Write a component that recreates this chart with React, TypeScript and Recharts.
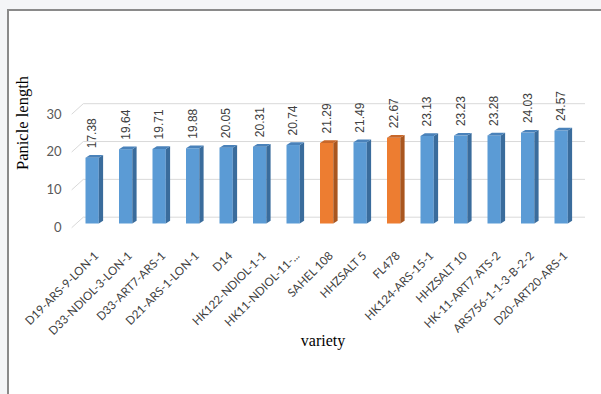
import React from 'react';
import { BarChart, Bar, XAxis, YAxis, CartesianGrid, LabelList, Cell } from 'recharts';

const varieties = [
  'D19-ARS-9-LON-1',
  'D33-NDIOL-3-LON-1',
  'D33-ART7-ARS-1',
  'D21-ARS-1-LON-1',
  'D14',
  'HK122-NDIOL-1-1',
  'HK11-NDIOL-11-...',
  'SAHEL 108',
  'HHZSALT 5',
  'FL478',
  'HK124-ARS-15-1',
  'HHZSALT 10',
  'HK-11-ART7-ATS-2',
  'ARS756-1-1-3-B-2-2',
  'D20-ART20-ARS-1'
];
const panicleLength = [17.38, 19.64, 19.71, 19.88, 20.05, 20.31, 20.74, 21.29, 21.49, 22.67, 23.13, 23.23, 23.28, 24.03, 24.57];
const checkVarieties = ['SAHEL 108', 'FL478'];
const yTicks = [0, 10, 20, 30];

const data = varieties.map((v, i) => ({ variety: v, value: panicleLength[i] }));

const BLUE = { front: '#5B9BD5', side: '#3A6C9C', top: '#4A82BA' };
const ORANGE = { front: '#ED7D31', side: '#A9561F', top: '#C8672A' };

// depth of the fake 3d bars
const DX = 4.3;
const DY = 2.7;

const Bar3D = (props: any) => {
  const { x, y, width, height, payload } = props;
  const c = checkVarieties.includes(payload.variety) ? ORANGE : BLUE;
  const r = x + width;
  const b = y + height;
  return (
    <g>
      <rect x={x} y={y} width={width} height={height} fill={c.front} />
      <polygon points={`${r},${y} ${r + DX},${y - DY} ${r + DX},${b - DY} ${r},${b}`} fill={c.side} />
      <polygon points={`${x},${y} ${x + DX},${y - DY} ${r + DX},${y - DY} ${r},${y}`} fill={c.top} />
    </g>
  );
};

const GridLine = (props: any) => {
  const { x1, x2, y1 } = props;
  return (
    <path
      key={`${y1}`}
      d={`M${x1 - 3.8},${y1 + 4.2} L${x1 + 7.8},${y1 - 6.3} L${x2 + 7},${y1 - 6.3}`}
      stroke="#D9D9D9"
      strokeWidth={1}
      fill="none"
    />
  );
};

const YTick = (props: any) => {
  const { x, y, payload } = props;
  return (
    <text x={x - 6} y={y + 4} dy="0.35em" textAnchor="end" fill="#595959" fontSize={13} fontFamily="Lato">
      {payload.value}
    </text>
  );
};

const XTick = (props: any) => {
  const { x, y, payload } = props;
  const tx = x + 7;
  const ty = y + 25;
  return (
    <text
      x={tx}
      y={ty}
      textAnchor="end"
      fill="#404040"
      fontSize={11.6}
      fontFamily="Lato"
      transform={`rotate(-45, ${tx}, ${ty})`}
    >
      {payload.value}
    </text>
  );
};

const ValueLabel = (props: any) => {
  const { x, y, width, value } = props;
  const px = x + width / 2 + 4;
  const py = y - 9.5;
  return (
    <text
      x={px}
      y={py}
      fill="#404040"
      fontSize={12}
      fontFamily="Liberation Sans"
      transform={`rotate(-90, ${px}, ${py})`}
    >
      {value.toFixed(2)}
    </text>
  );
};

export default function App() {
  return (
    <div style={{ position: 'relative', width: 601, height: 394, background: '#F4F5F7', overflow: 'hidden' }}>
      <style>{`body{margin:0}`}</style>
      <div
        style={{
          position: 'absolute',
          left: 7,
          top: 9,
          width: 610,
          height: 400,
          background: '#fff',
          borderLeft: '2px solid #8A8A8A',
          borderTop: '2px solid #8A8A8A'
        }}
      />
      <div style={{ position: 'absolute', left: 0, top: 0 }}>
        <BarChart width={601} height={394} data={data} margin={{ top: 110, right: 23, bottom: 110.5, left: 8 }}>
          <CartesianGrid vertical={false} horizontal={GridLine} />
          <XAxis dataKey="variety" axisLine={false} tickLine={false} interval={0} tick={<XTick />} height={60} />
          <YAxis domain={[0, 30]} ticks={yTicks} axisLine={false} tickLine={false} tick={<YTick />} width={67.5} />
          <Bar dataKey="value" barSize={13.3} shape={<Bar3D />} isAnimationActive={false}>
            {data.map((d) => (
              <Cell key={d.variety} />
            ))}
            <LabelList dataKey="value" content={<ValueLabel />} />
          </Bar>
          <text x={22} y={123} textAnchor="middle" dominantBaseline="central" fontSize={16.5} fontFamily="Liberation Serif" fill="#000" transform="rotate(-90, 22, 123)">
            Panicle length
          </text>
          <text x={323} y={346} textAnchor="middle" fontSize={16} fontFamily="Liberation Serif" fill="#000">
            variety
          </text>
        </BarChart>
      </div>
    </div>
  );
}
